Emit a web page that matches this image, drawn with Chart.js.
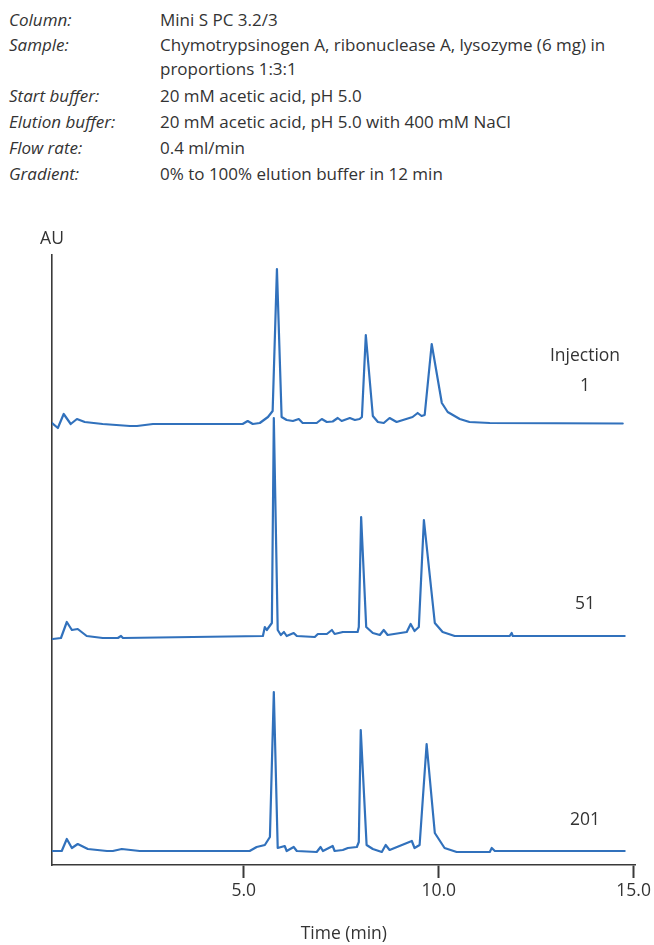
<!DOCTYPE html>
<html>
<head>
<meta charset="utf-8">
<script src="https://cdn.jsdelivr.net/npm/chart.js@4/dist/chart.umd.min.js"></script>
<style>
  html, body { margin: 0; padding: 0; background: #fff; }
  body { width: 654px; height: 945px; position: relative; overflow: hidden;
         font-family: "Open Sans", "DejaVu Sans", sans-serif; color: #333; }
  .row { position: absolute; left: 0; font-size: 17px; line-height: 26px; }
  .row .k { position: absolute; left: 9px; font-style: italic; white-space: nowrap; }
  .row .v { position: absolute; left: 160px; white-space: nowrap; }
  .row.two { line-height: 24px; }
  .lbl { position: absolute; font-size: 17.5px; line-height: 20px; text-align: center; width: 120px; }
  #wrap { position: absolute; left: 0; top: 0; width: 654px; height: 945px; }
</style>
</head>
<body>
<div class="row" style="top:7px"><span class="k">Column:</span><span class="v">Mini S PC 3.2/3</span></div>
<div class="row two" style="top:33px"><span class="k">Sample:</span><span class="v">Chymotrypsinogen A, ribonuclease A, lysozyme (6 mg) in<br>proportions 1:3:1</span></div>
<div class="row" style="top:83px"><span class="k">Start buffer:</span><span class="v">20 mM acetic acid, pH 5.0</span></div>
<div class="row" style="top:109px"><span class="k">Elution buffer:</span><span class="v">20 mM acetic acid, pH 5.0 with 400 mM NaCl</span></div>
<div class="row" style="top:135px"><span class="k">Flow rate:</span><span class="v">0.4 ml/min</span></div>
<div class="row" style="top:161px"><span class="k">Gradient:</span><span class="v">0% to 100% elution buffer in 12 min</span></div>

<div id="wrap"><canvas id="chart" width="654" height="945"></canvas></div>

<div class="lbl" style="left:-8px; top:227px; width:120px;">AU</div>
<div class="lbl" style="left:525px; top:344px;">Injection</div>
<div class="lbl" style="left:525px; top:374px;">1</div>
<div class="lbl" style="left:525px; top:592px;">51</div>
<div class="lbl" style="left:525px; top:808px;">201</div>

<script>
// Retention time (min) and absorbance for each injection trace.
// Absorbance is in arbitrary units with each run stacked above the previous one.
const injection1Time = [0.08, 0.23, 0.38, 0.56, 0.72, 0.92, 1.38, 2.08, 2.26, 2.67, 4.97, 5.10, 5.23, 5.41, 5.62, 5.74, 5.85, 5.97, 6.10, 6.26, 6.41, 6.51, 6.87, 7.00, 7.13, 7.28, 7.41, 7.51, 7.72, 7.85, 7.97, 8.03, 8.13, 8.31, 8.44, 8.59, 8.74, 8.92, 9.33, 9.46, 9.56, 9.64, 9.82, 10.08, 10.23, 10.54, 10.79, 11.31, 14.72];
const injection1AU   = [442, 437, 451, 441, 446, 443, 441, 439, 439, 441, 441, 444, 441, 442, 448, 454, 596, 448, 445, 444, 446, 442, 442, 446, 443, 443.5, 447, 444, 447, 445, 446, 448, 530, 449, 443, 442, 447, 443, 448, 452, 449, 450, 521, 462, 453, 446, 443, 442, 441.5];

const injection51Time = [0.10, 0.31, 0.46, 0.59, 0.74, 0.97, 1.38, 1.77, 1.85, 1.90, 5.49, 5.54, 5.59, 5.72, 5.77, 5.87, 5.95, 6.03, 6.10, 6.28, 6.36, 6.82, 6.90, 7.13, 7.26, 7.33, 7.54, 7.92, 7.95, 8.01, 8.14, 8.31, 8.49, 8.59, 8.69, 9.18, 9.28, 9.38, 9.49, 9.62, 9.90, 10.10, 10.41, 11.82, 11.87, 11.90, 14.77];
const injection51AU   = [226, 227, 243, 235, 236, 229, 227, 227, 229, 227, 229, 238, 235, 242, 447, 235, 230, 233, 229, 232, 229, 228, 231, 231, 235, 231, 233, 233, 238, 348, 238, 232, 230, 235, 230, 233, 241, 234, 238, 345, 242, 233, 229, 229, 232, 229, 229];

const injection201Time = [0.10, 0.33, 0.46, 0.59, 0.74, 1.00, 1.49, 1.64, 1.87, 2.33, 5.15, 5.33, 5.54, 5.67, 5.77, 5.87, 6.05, 6.10, 6.28, 6.36, 6.87, 6.97, 7.03, 7.28, 7.33, 7.54, 7.67, 7.90, 7.95, 8.00, 8.15, 8.31, 8.54, 8.64, 8.74, 9.31, 9.38, 9.51, 9.69, 9.90, 10.15, 10.46, 11.31, 11.36, 11.44, 14.77];
const injection201AU   = [14, 14, 26, 17, 21, 16, 14, 14, 16, 14, 14, 18, 20, 28, 173, 17, 19, 14, 18, 14, 13, 18, 14, 19, 14, 15, 17, 18, 23, 135, 20, 16, 13, 20, 15, 24, 17, 20, 121, 32, 17, 13, 13, 17, 14, 14];

const timeTicks = [5, 10, 15];

const traceColor = '#3171bc';
const axisColor = '#3a3a3a';

function points(times, values) {
  return times.map((t, i) => ({ x: t, y: values[i] }));
}

function trace(times, values) {
  return {
    data: points(times, values),
    borderColor: traceColor,
    borderWidth: 2.2,
    pointRadius: 0,
    tension: 0,
    borderJoinStyle: 'round',
    borderCapStyle: 'round',
    fill: false
  };
}

new Chart(document.getElementById('chart'), {
  type: 'line',
  data: {
    datasets: [
      trace(injection1Time, injection1AU),
      trace(injection51Time, injection51AU),
      trace(injection201Time, injection201AU)
    ]
  },
  options: {
    responsive: false,
    animation: false,
    events: [],
    layout: { padding: { left: 52, right: 18, top: 255, bottom: 0 } },
    plugins: { legend: { display: false }, tooltip: { enabled: false } },
    scales: {
      x: {
        type: 'linear',
        min: 0.08,
        max: 15.05,
        afterBuildTicks: (scale) => { scale.ticks = timeTicks.map(v => ({ value: v })); },
        afterFit: (scale) => { scale.height = 80; },
        ticks: {
          color: '#333',
          padding: 3,
          font: { family: '"Open Sans", sans-serif', size: 17.5 },
          maxRotation: 0,
          callback: (v) => Number(v).toFixed(1)
        },
        grid: {
          drawOnChartArea: false,
          drawTicks: true,
          tickLength: 13,
          tickWidth: 2,
          tickColor: axisColor,
          color: axisColor
        },
        border: { display: true, color: axisColor, width: 1.6 },
        title: {
          display: true,
          text: 'Time (min)',
          color: '#333',
          font: { family: '"Open Sans", sans-serif', size: 17.5 },
          padding: { top: 0, bottom: 0 }
        }
      },
      y: {
        type: 'linear',
        min: 0,
        max: 610,
        afterFit: (scale) => { scale.width = 0; },
        ticks: { display: false },
        grid: { display: false },
        border: { display: true, color: axisColor, width: 1.6 }
      }
    }
  }
});
</script>
</body>
</html>
